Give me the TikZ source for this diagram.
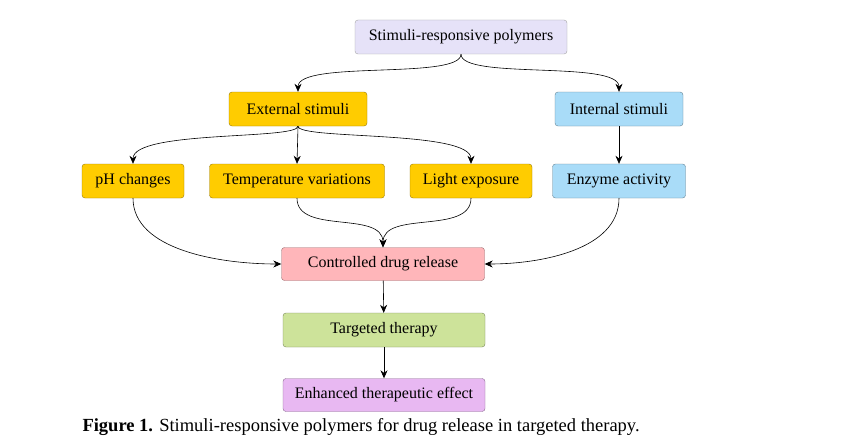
\documentclass[tikz,border=0pt]{standalone}
\usepackage{fontspec}
\setmainfont{Liberation Serif}
\usetikzlibrary{arrows.meta}
\definecolor{lavbox}{HTML}{E6E2F8}
\definecolor{goldbox}{HTML}{FFCC00}
\definecolor{bluebox}{HTML}{A9DCF8}
\definecolor{pinkbox}{HTML}{FFB6BA}
\definecolor{greenbox}{HTML}{CDE39A}
\definecolor{violetbox}{HTML}{E8B8F2}
\tikzset{
  box/.style={draw=#1!60!black, rounded corners=3pt, inner sep=0pt,
    minimum height=34pt, font=\fontsize{16}{18}\selectfont, fill=#1},
  link/.style={-{Stealth[length=8pt,width=7pt]}, semithick}
}
\begin{document}
\begin{tikzpicture}[x=1pt,y=-1pt]
  \useasboundingbox[fill=white] (0,0) rectangle (856,444);
  \node[box=lavbox, draw=gray!70, minimum width=212pt] (poly) at (461,37) {Stimuli-responsive polymers};
  \node[box=goldbox, minimum width=138pt] (ext) at (298,109) {External stimuli};
  \node[box=bluebox, minimum width=128pt] (int) at (619,109) {Internal stimuli};
  \node[box=goldbox, minimum width=102pt] (ph) at (133,181) {pH changes};
  \node[box=goldbox, minimum width=175pt] (temp) at (297,181) {Temperature variations};
  \node[box=goldbox, minimum width=122pt] (light) at (471,181) {Light exposure};
  \node[box=bluebox, minimum width=133pt] (enz) at (619,181) {Enzyme activity};
  \node[box=pinkbox, minimum width=203pt, minimum height=33pt] (rel) at (383,264) {Controlled drug release};
  \node[box=greenbox, minimum width=202pt] (ther) at (384,330) {Targeted therapy};
  \node[box=violetbox, minimum width=202pt, minimum height=33pt] (eff) at (384,395) {Enhanced therapeutic effect};
  \node[anchor=west, font=\fontsize{18.5}{20}\selectfont] (cap) at (79,427)
    {\textbf{Figure 1.} Stimuli-responsive polymers for drug release in targeted therapy.};
  % connectors
  \draw[link] (poly.south) .. controls (461,80) and (298,60) .. (ext.north);
  \draw[link] (poly.south) .. controls (461,80) and (619,60) .. (int.north);
  \draw[link] (ext.south) .. controls (298,140) and (133,130) .. (ph.north);
  \draw[link] (ext.south) -- (temp.north);
  \draw[link] (ext.south) .. controls (298,140) and (471,130) .. (light.north);
  \draw[link] (int.south) -- (enz.north);
  \draw[link] (temp.south) .. controls (297,235) and (383,210) .. (rel.north);
  \draw[link] (light.south) .. controls (471,235) and (383,210) .. (rel.north);
  \draw[link] (ph.south) .. controls (133,250) and (220,264) .. (rel.west);
  \draw[link] (enz.south) .. controls (619,250) and (540,264) .. (rel.east);
  \draw[link] (rel) -- (ther);
  \draw[link] (ther) -- (eff);
\end{tikzpicture}
\end{document}
